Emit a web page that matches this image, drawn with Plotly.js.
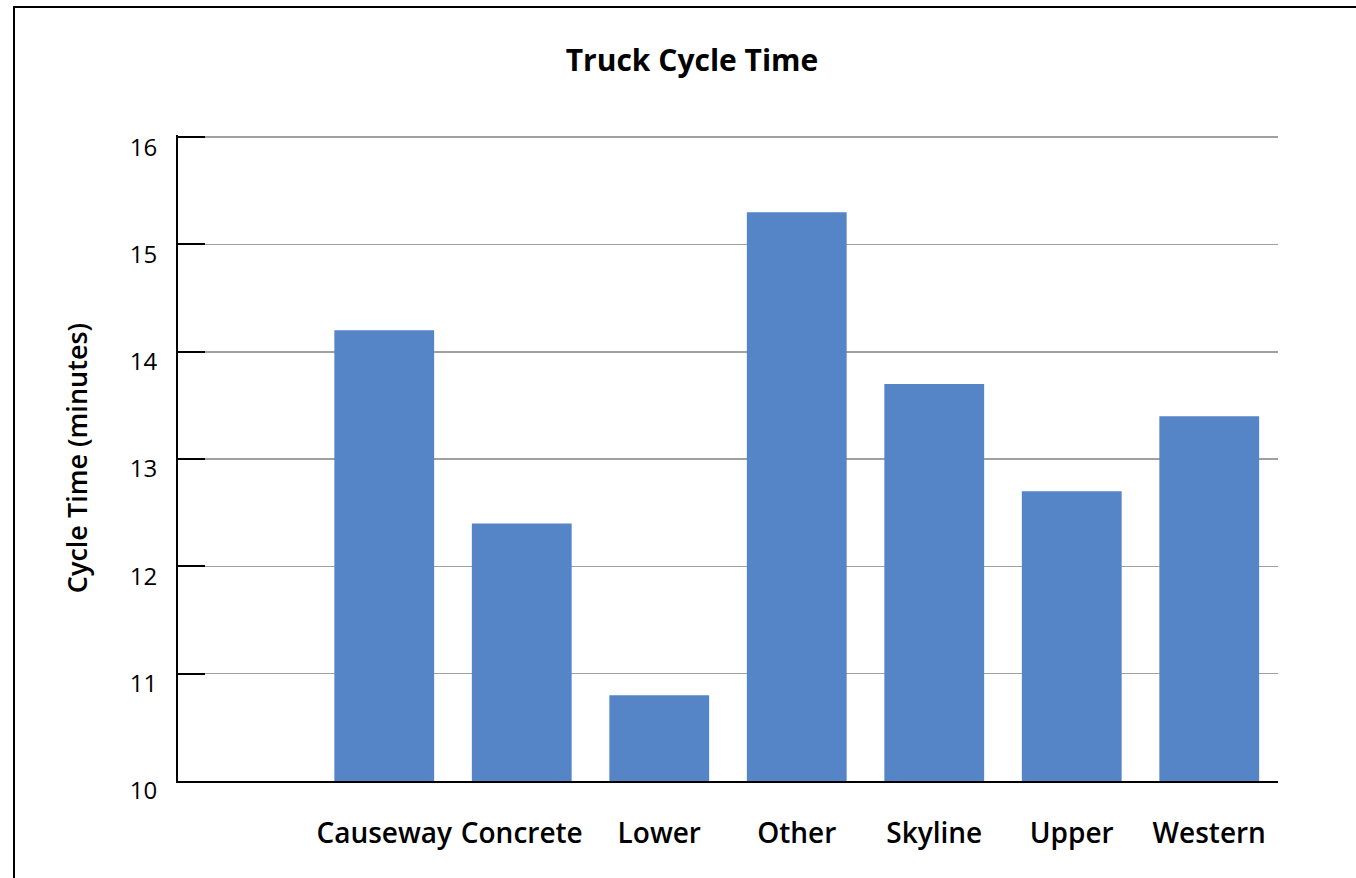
<!DOCTYPE html>
<html>
<head>
<meta charset="utf-8">
<script src="https://cdn.plot.ly/plotly-3.0.1.min.js"></script>
<style>
  html, body { margin: 0; padding: 0; background: #fff; overflow: hidden; }
  #chart { width: 1356px; height: 878px; position: absolute; left: 0; top: 0; }
  #frame { position: absolute; left: 12.5px; top: 6px; width: 1400px; height: 900px;
           border: 2.5px solid #000; pointer-events: none; }
</style>
</head>
<body>
<div id="chart"></div>
<div id="frame"></div>
<script>
const categories = ["Causeway", "Concrete", "Lower", "Other", "Skyline", "Upper", "Western"];
const cycleTimes = [14.2, 12.4, 10.8, 15.3, 13.7, 12.7, 13.4];
const yTickValues = [10, 11, 12, 13, 14, 15, 16];

const trace = {
  type: "bar",
  x: categories,
  y: cycleTimes,
  marker: { color: "#5585c6", line: { width: 0 } },
  hoverinfo: "x+y"
};

const layout = {
  width: 1356,
  height: 878,
  margin: { l: 178, r: 78, t: 135, b: 97, pad: 0 },
  paper_bgcolor: "rgba(0,0,0,0)",
  plot_bgcolor: "#ffffff",
  font: { family: "Open Sans, Noto Sans, sans-serif", color: "#000" },
  bargap: 0.274,
  showlegend: false,
  title: {
    text: "Truck Cycle Time",
    font: { family: "Open Sans", size: 30, weight: 700, color: "#000" },
    x: 692 / 1356, xref: "container", xanchor: "center",
    y: 1 - 60 / 878, yref: "container", yanchor: "middle"
  },
  xaxis: {
    type: "category",
    range: [-1.5, 6.5],
    showline: true, linecolor: "#000", linewidth: 2,
    showgrid: false, ticks: "", zeroline: false,
    tickfont: { family: "Open Sans", size: 28, weight: 600, color: "#000" },
    ticklabelstandoff: 26,
    fixedrange: true
  },
  yaxis: {
    range: [10, 16.02],
    tickvals: yTickValues,
    ticktext: yTickValues.map(String),
    showline: true, linecolor: "#000", linewidth: 2,
    ticks: "inside", ticklen: 27, tickwidth: 2, tickcolor: "#000",
    showgrid: true, gridcolor: "#a0a0a0", gridwidth: 1.5,
    zeroline: false,
    tickfont: { family: "Open Sans", size: 24, color: "#000" },
    ticklabelstandoff: 14,
    ticklabelshift: 10,
    title: {
      text: "Cycle Time (minutes)",
      font: { family: "Open Sans", size: 27, weight: 600, color: "#000" },
      standoff: 34
    },
    automargin: false,
    fixedrange: true
  }
};

Plotly.newPlot("chart", [trace], layout, { displayModeBar: false, staticPlot: true });
</script>
</body>
</html>
